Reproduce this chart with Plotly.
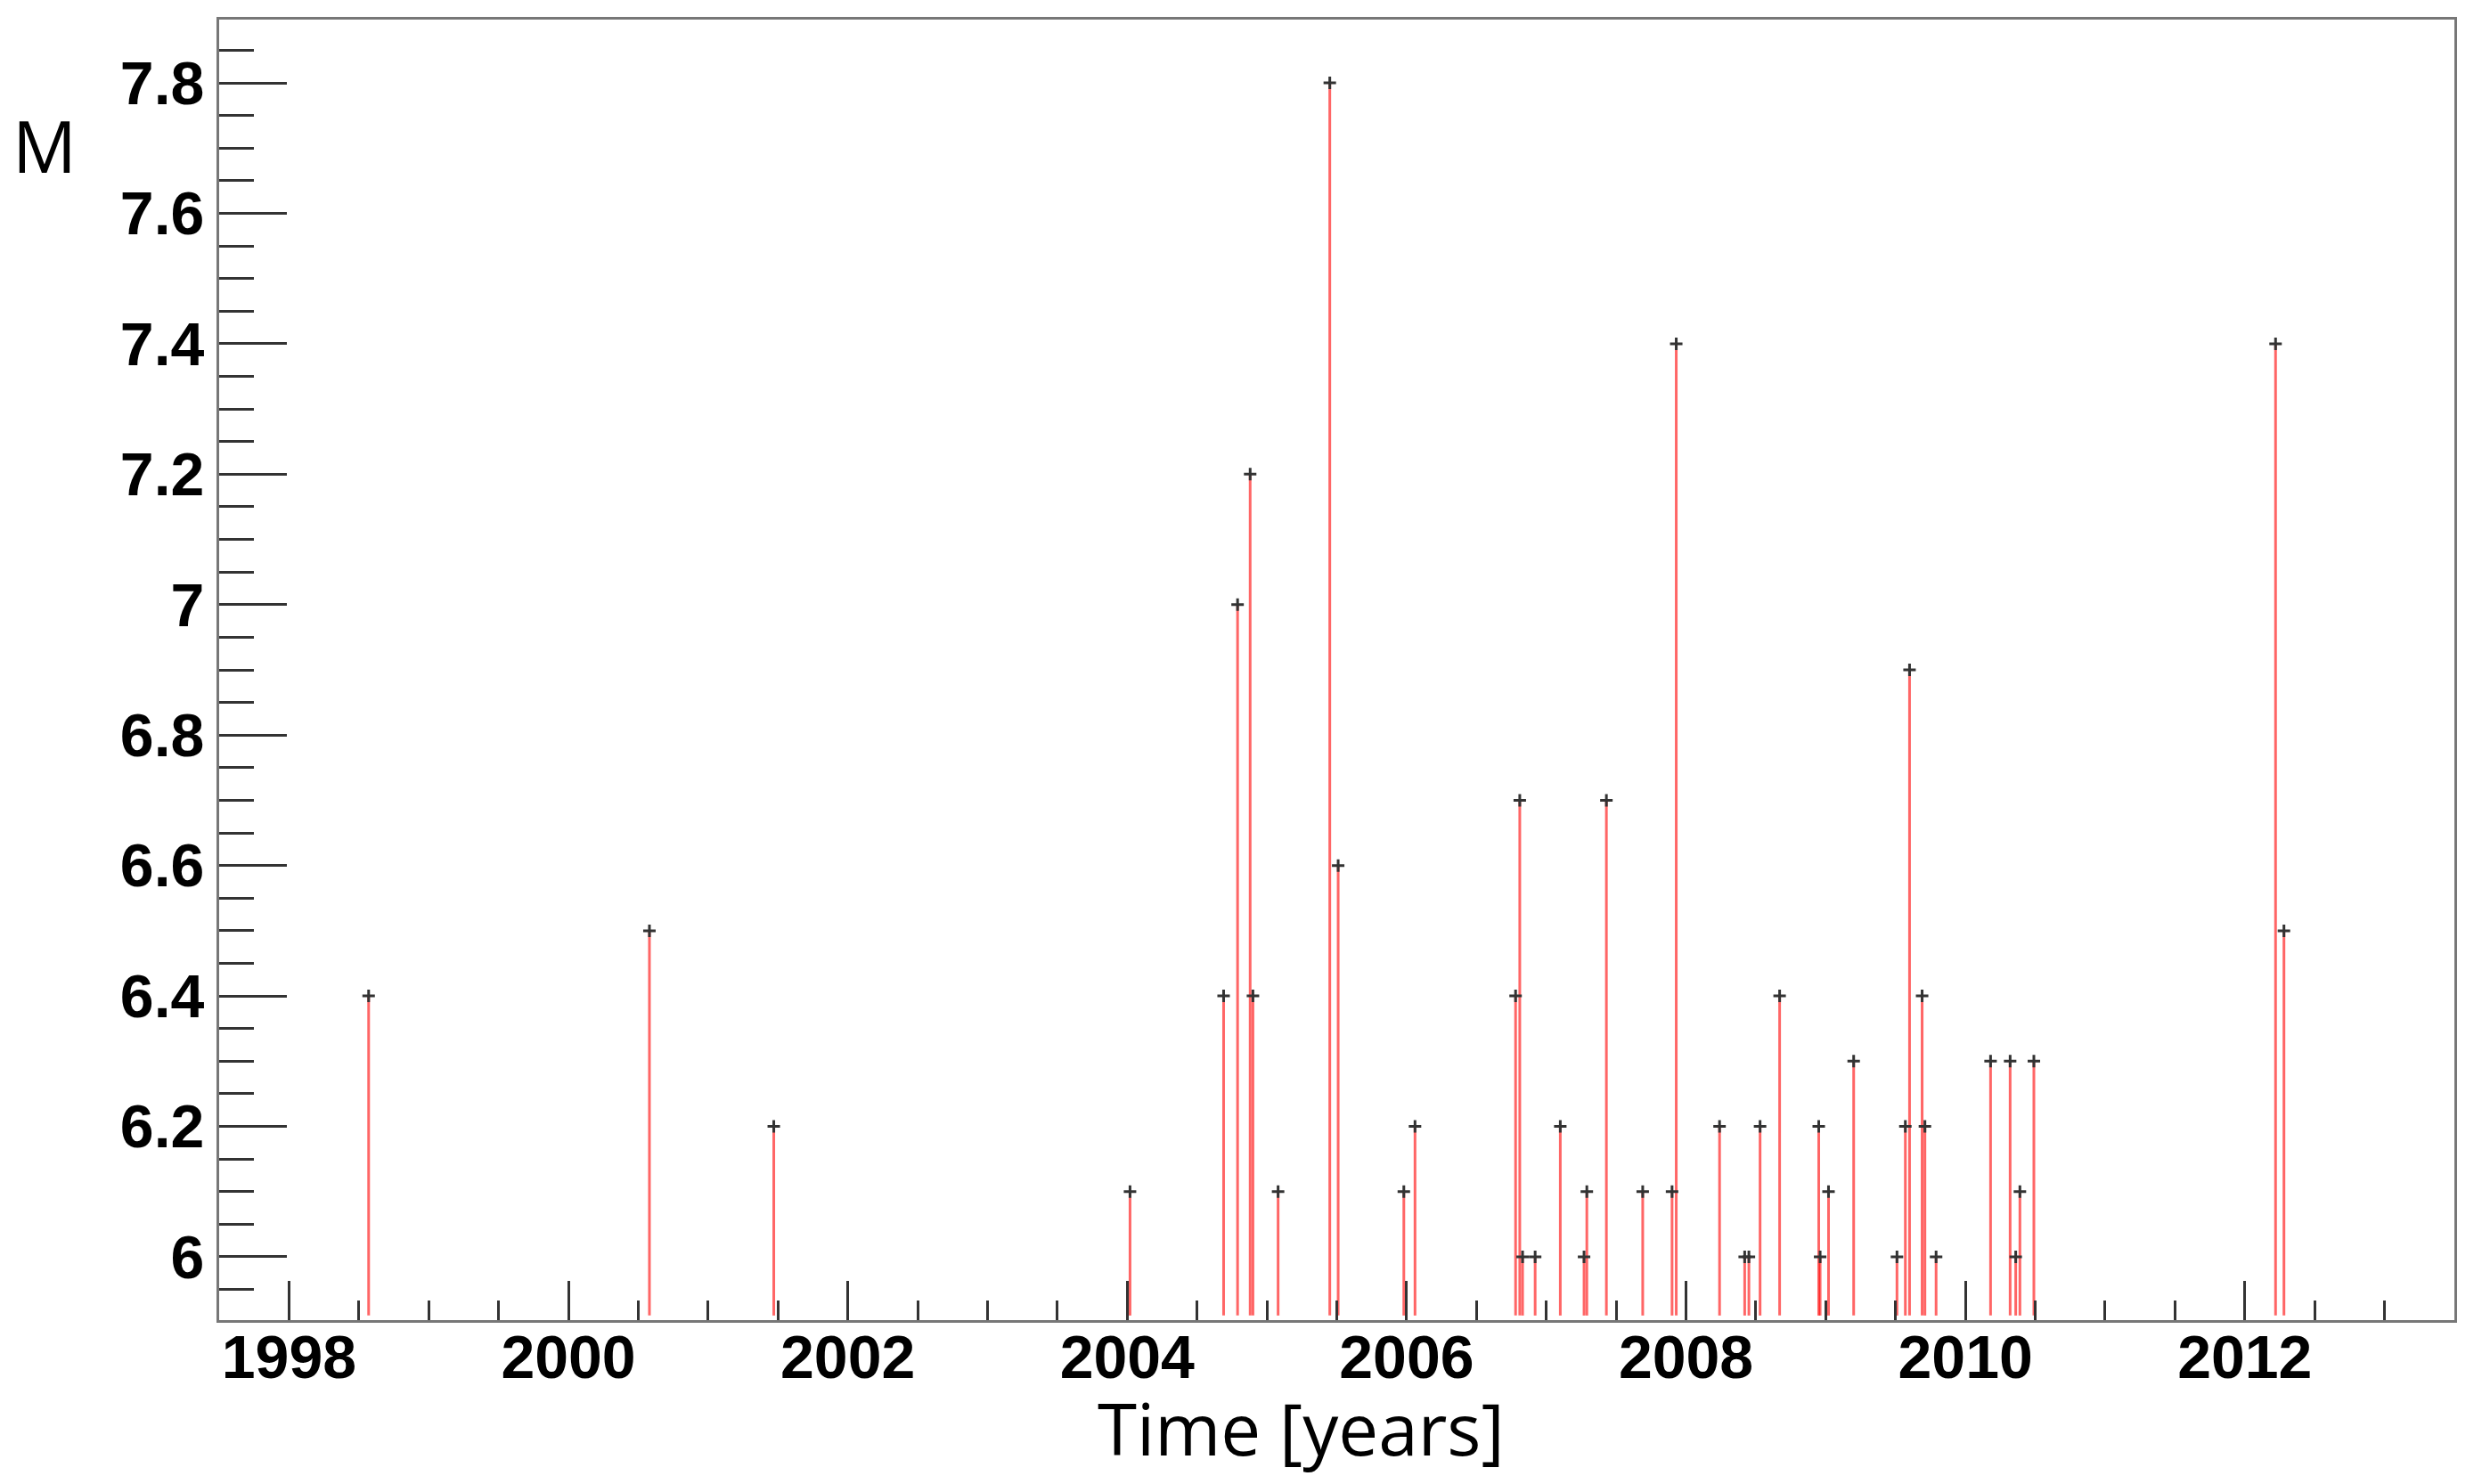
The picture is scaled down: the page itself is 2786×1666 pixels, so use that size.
import plotly.graph_objects as go

# Event times (decimal years) and magnitudes
event_time = [
    1998.57, 2000.58, 2001.47, 2004.02, 2004.69, 2004.79, 2004.88, 2004.90,
    2005.08, 2005.45, 2005.51, 2005.98, 2006.06, 2006.78, 2006.81, 2006.83,
    2006.92, 2007.10, 2007.27, 2007.29, 2007.43, 2007.69, 2007.90, 2007.93,
    2008.24, 2008.42, 2008.45, 2008.53, 2008.67, 2008.95, 2008.96, 2009.02,
    2009.20, 2009.51, 2009.57, 2009.60, 2009.69, 2009.71, 2009.79, 2010.18,
    2010.32, 2010.36, 2010.39, 2010.49, 2012.22, 2012.28,
]
magnitude = [
    6.4, 6.5, 6.2, 6.1, 6.4, 7.0, 7.2, 6.4,
    6.1, 7.8, 6.6, 6.1, 6.2, 6.4, 6.7, 6.0,
    6.0, 6.2, 6.0, 6.1, 6.7, 6.1, 6.1, 7.4,
    6.2, 6.0, 6.0, 6.2, 6.4, 6.2, 6.0, 6.1,
    6.3, 6.0, 6.2, 6.9, 6.4, 6.2, 6.0, 6.3,
    6.3, 6.0, 6.1, 6.3, 7.4, 6.5,
]
stem_base = 5.91

x_tick_vals = [1998, 2000, 2002, 2004, 2006, 2008, 2010, 2012]
x_tick_labels = ["1998", "2000", "2002", "2004", "2006", "2008", "2010", "2012"]
y_tick_vals = [6.0, 6.2, 6.4, 6.6, 6.8, 7.0, 7.2, 7.4, 7.6, 7.8]
y_tick_labels = ["6", "6.2", "6.4", "6.6", "6.8", "7", "7.2", "7.4", "7.6", "7.8"]

# Build stems
sx, sy = [], []
for t, m in zip(event_time, magnitude):
    sx += [t, t, None]
    sy += [stem_base, m, None]

fig = go.Figure()
fig.add_trace(go.Scatter(
    x=sx, y=sy, mode="lines",
    line=dict(color="rgba(255,0,0,0.6)", width=3),
    hoverinfo="skip", showlegend=False,
))
fig.add_trace(go.Scatter(
    x=event_time, y=magnitude, mode="markers",
    marker=dict(symbol="cross-thin", size=10, line=dict(color="#333333", width=3)),
    showlegend=False,
))

tickfont = dict(family="Liberation Sans, Arial, sans-serif", size=68, color="black", weight="bold")

fig.update_xaxes(
    range=[1997.5, 2013.5],
    tickmode="array", tickvals=x_tick_vals, ticktext=x_tick_labels,
    ticks="inside", ticklen=44, tickwidth=2.5, tickcolor="#333333",
    minor=dict(ticks="inside", ticklen=22, tickwidth=2.5, tickcolor="#333333",
               tick0=1998, dtick=0.5, showgrid=False),
    showline=True, linecolor="#777777", linewidth=3, mirror=True,
    showgrid=False, zeroline=False, tickfont=tickfont,
    ticklabelstandoff=-20,
)
fig.update_yaxes(
    range=[5.903, 7.897],
    tickmode="array", tickvals=y_tick_vals, ticktext=y_tick_labels,
    ticks="inside", ticklen=76, tickwidth=2.5, tickcolor="#333333",
    minor=dict(ticks="inside", ticklen=39, tickwidth=2.5, tickcolor="#333333",
               tick0=6.0, dtick=0.05, showgrid=False),
    showline=True, linecolor="#777777", linewidth=3, mirror=True,
    showgrid=False, zeroline=False, tickfont=tickfont,
)

labelfont = dict(family="Open Sans, Noto Sans, sans-serif", size=80, color="black")
fig.add_annotation(text="Time [years]", xref="paper", yref="paper",
                   x=0.4839, y=-0.0445, xanchor="center", yanchor="top",
                   showarrow=False, font=labelfont, borderpad=0)
fig.add_annotation(text="M", xref="paper", yref="paper",
                   x=-0.078, y=0.904, xanchor="center", yanchor="middle",
                   showarrow=False, font=labelfont)

fig.update_layout(
    width=2770, height=1650,
    margin=dict(l=238, r=23, t=14, b=176),
    plot_bgcolor="white", paper_bgcolor="white",
)

fig.write_html("out.html")
